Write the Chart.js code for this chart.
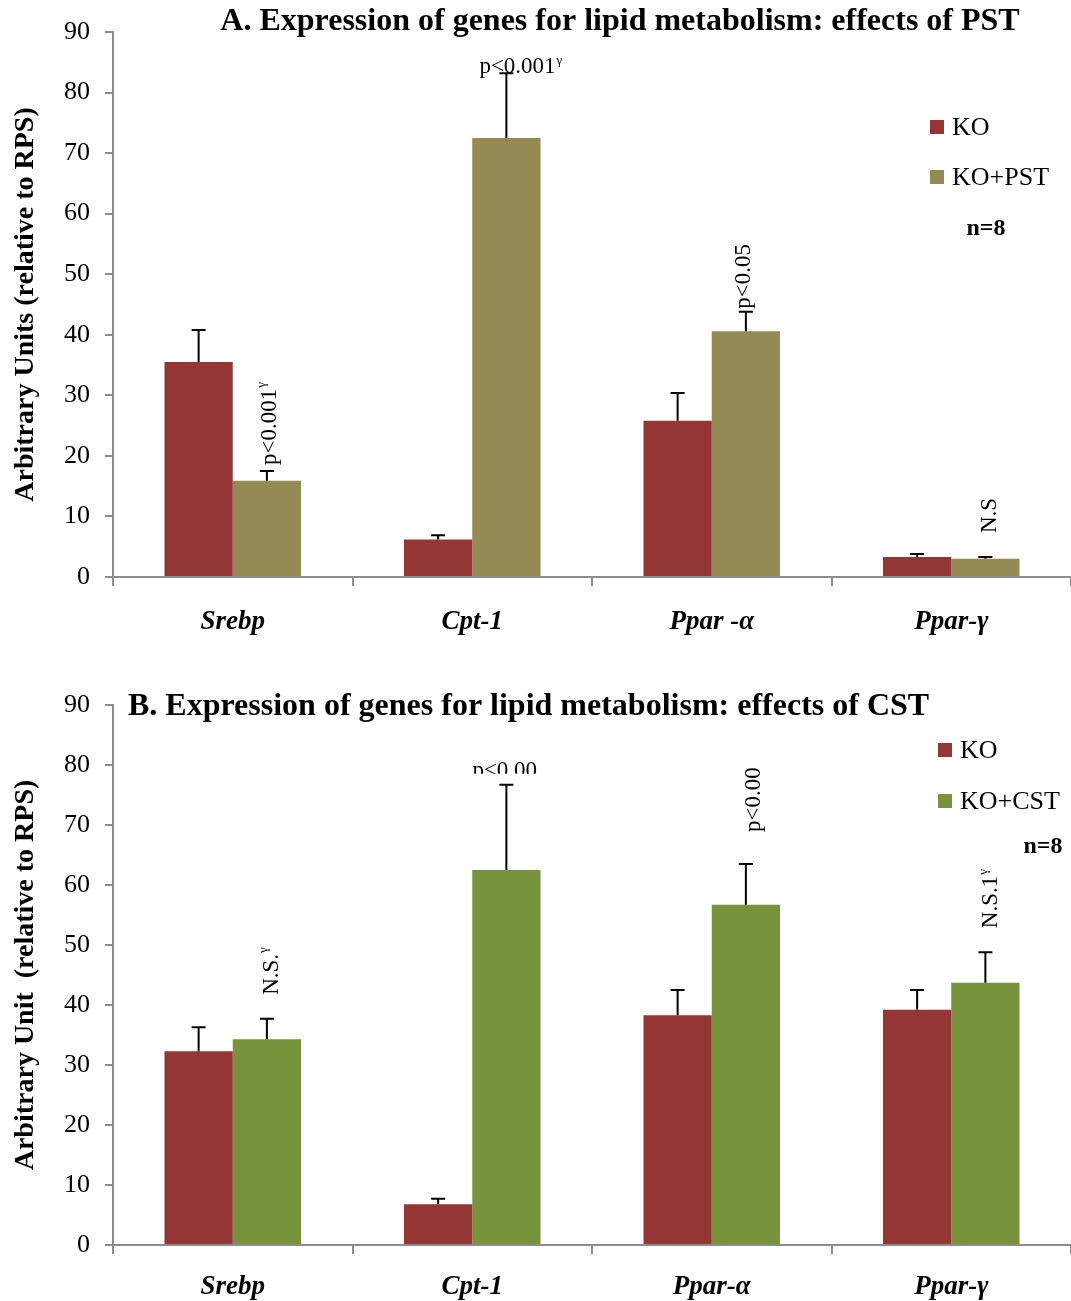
<!DOCTYPE html>
<html><head><meta charset="utf-8">
<script src="https://cdn.jsdelivr.net/npm/chart.js@4.4.1/dist/chart.umd.min.js"></script>
<style>
body{margin:0;background:#fff;width:1071px;height:1301px;overflow:hidden;position:relative}
.wrap{position:absolute;left:0;width:1071px}
canvas{display:block}
</style></head><body>
<div class="wrap" style="top:0;height:650px"><canvas id="cA" width="1071" height="650"></canvas></div>
<div class="wrap" style="top:650px;height:651px"><canvas id="cB" width="1071" height="651"></canvas></div>
<script>
// ---------- DATA ----------
const categoriesA = ['Srebp', 'Cpt-1', 'Ppar -α', 'Ppar-γ'];
const koA      = [35.5, 6.2, 25.8, 3.3];
const koErrA   = [5.3, 0.7, 4.6, 0.5];
const pstA     = [15.9, 72.5, 40.6, 3.0];
const pstErrA  = [1.6, 10.7, 3.2, 0.3];
const notesTextA = ['p<0.001', 'p<0.001', 'p<0.05', 'N.S'];
const notesSupA  = ['γ', 'γ', '', ''];

const categoriesB = ['Srebp', 'Cpt-1', 'Ppar-α', 'Ppar-γ'];
const koB      = [32.3, 6.8, 38.3, 39.2];
const koErrB   = [4.0, 0.9, 4.2, 3.3];
const cstB     = [34.3, 62.5, 56.7, 43.7];
const cstErrB  = [3.4, 14.2, 6.8, 5.1];
const notesTextB = ['N.S.', 'p<0.00', 'p<0.00', 'N.S.1'];
const notesSupB  = ['γ', '', '', 'γ'];

const yTicks = [0, 10, 20, 30, 40, 50, 60, 70, 80, 90];
const seriesLabelsA = ['KO', 'KO+PST'];
const seriesLabelsB = ['KO', 'KO+CST'];
const titleA = 'A. Expression of genes for lipid metabolism: effects of PST';
const titleB = 'B. Expression of genes for lipid metabolism: effects of CST';
const yTitleA = 'Arbitrary Units (relative to RPS)';
const yTitleB = 'Arbitrary Unit  (relative to RPS)';

// ---------- STYLE ----------
const FONT = "'Liberation Serif', 'Times New Roman', serif";
const RED = '#943634', OLIVE = '#948A54', GREEN = '#77933C', AXIS = '#8c8c8c';

const decor = {
  id: 'decor',
  afterDatasetsDraw(chart, args, o) {
    const ctx = chart.ctx, y = chart.scales.y;
    chart.data.datasets.forEach((ds, di) => {
      chart.getDatasetMeta(di).data.forEach((bar, i) => {
        const top = y.getPixelForValue(ds.data[i] + ds.errors[i]);
        ctx.save();
        ctx.strokeStyle = '#000'; ctx.lineWidth = 2;
        ctx.beginPath();
        ctx.moveTo(bar.x, bar.y); ctx.lineTo(bar.x, top);
        ctx.moveTo(bar.x - 7, top); ctx.lineTo(bar.x + 7, top);
        ctx.stroke(); ctx.restore();
      });
    });
    // annotations
    (o.notes || []).forEach(n => {
      const ds = chart.data.datasets[n.ds];
      const bar = chart.getDatasetMeta(n.ds).data[n.cat];
      const capY = y.getPixelForValue(ds.data[n.cat] + ds.errors[n.cat]);
      ctx.save();
      ctx.fillStyle = '#000';
      if (n.clip) { ctx.beginPath(); ctx.rect(0, 0, chart.width, capY + n.clip); ctx.clip(); }
      ctx.font = `23px ${FONT}`;
      if (n.rotate) {
        ctx.translate(bar.x + n.dx, capY - n.gap);
        ctx.rotate(-Math.PI / 2);
        ctx.textAlign = 'left'; ctx.textBaseline = 'middle';
        ctx.fillText(n.text, 0, 0);
        const w = ctx.measureText(n.text).width;
        if (n.sup) { ctx.font = `13px ${FONT}`; ctx.fillText(n.sup, w + 1, -8); }
      } else {
        ctx.textAlign = 'left'; ctx.textBaseline = 'alphabetic';
        const x0 = bar.x + n.dx, y0 = capY + n.dy;
        ctx.fillText(n.text, x0, y0);
        const w = ctx.measureText(n.text).width;
        if (n.sup) { ctx.font = `13px ${FONT}`; ctx.fillText(n.sup, x0 + w + 1, y0 - 9); }
      }
      ctx.restore();
    });
  },
  afterDraw(chart, args, o) {
    const ctx = chart.ctx;
    ctx.save();
    ctx.fillStyle = '#000';
    ctx.font = `bold 32px ${FONT}`;
    ctx.textBaseline = 'middle';
    ctx.textAlign = o.titleAlign;
    ctx.fillText(o.title, o.titleX, o.titleY);
    // legend
    ctx.font = `26px ${FONT}`;
    ctx.textAlign = 'left';
    chart.data.datasets.forEach((ds, i) => {
      const ly = o.legY[i];
      ctx.fillStyle = ds.backgroundColor;
      ctx.fillRect(o.legX, ly - 7, 14, 14);
      ctx.fillStyle = '#000';
      ctx.fillText(ds.label, o.legX + 22, ly + 1);
    });
    ctx.font = `bold 24px ${FONT}`;
    ctx.textAlign = 'center';
    ctx.fillText('n=8', o.nX, o.nY);
    ctx.restore();
  }
};

function buildNotes(texts, sups, styles) {
  return texts.map((t, i) => Object.assign({ text: t, sup: sups[i] }, styles[i]));
}

function makeChart(id, cats, labels, d0, e0, d1, e1, c1, yTitle, padTop, xAxisH, xPad, decorOpts) {
  return new Chart(document.getElementById(id), {
    type: 'bar',
    data: {
      labels: cats,
      datasets: [
        { label: labels[0], data: d0, errors: e0, backgroundColor: RED, borderWidth: 0 },
        { label: labels[1], data: d1, errors: e1, backgroundColor: c1, borderWidth: 0 }
      ]
    },
    options: {
      responsive: false, maintainAspectRatio: false, animation: false,
      layout: { padding: { top: padTop, right: 0, bottom: 0, left: 0 } },
      categoryPercentage: 0.57, barPercentage: 1.0,
      plugins: { legend: { display: false }, tooltip: { enabled: false }, title: { display: false }, decor: decorOpts },
      scales: {
        x: {
          afterFit(s) { s.height = xAxisH; },
          grid: { display: true, drawOnChartArea: false, drawTicks: true, tickLength: 9, color: AXIS, lineWidth: 2, offset: true },
          border: { display: true, color: AXIS, width: 2 },
          ticks: { color: '#000', font: { family: FONT, size: 27, style: 'italic', weight: 'bold' }, padding: xPad, maxRotation: 0 }
        },
        y: {
          min: 0, max: 90,
          afterFit(s) { s.width = 113; },
          afterBuildTicks(s) { s.ticks = yTicks.map(v => ({ value: v })); },
          grid: { display: true, drawOnChartArea: false, drawTicks: true, tickLength: 8, color: AXIS, lineWidth: 2 },
          border: { display: true, color: AXIS, width: 2 },
          ticks: { color: '#000', font: { family: FONT, size: 26 }, padding: 15 },
          title: { display: true, text: yTitle, color: '#000', font: { family: FONT, size: 28, weight: 'bold' }, padding: { top: 9, bottom: 0 } }
        }
      }
    },
    plugins: [decor]
  });
}

makeChart('cA', categoriesA, seriesLabelsA, koA, koErrA, pstA, pstErrA, OLIVE, yTitleA, 32, 73, 20, {
  title: titleA, titleAlign: 'center', titleX: 620, titleY: 22,
  legX: 930, legY: [127, 177], nX: 986, nY: 229,
  notes: buildNotes(notesTextA, notesSupA, [
    { cat: 0, ds: 1, rotate: true, dx: 3, gap: 6 },
    { cat: 1, ds: 1, rotate: false, dx: -27, dy: 0 },
    { cat: 2, ds: 1, rotate: true, dx: -2, gap: 3 },
    { cat: 3, ds: 1, rotate: true, dx: 5, gap: 24 }
  ])
});

makeChart('cB', categoriesB, seriesLabelsB, koB, koErrB, cstB, cstErrB, GREEN, yTitleB, 55, 56, 17, {
  title: titleB, titleAlign: 'left', titleX: 128, titleY: 57,
  legX: 938, legY: [100, 151], nX: 1043, nY: 197,
  notes: buildNotes(notesTextB, notesSupB, [
    { cat: 0, ds: 1, rotate: true, dx: 5, gap: 24 },
    { cat: 1, ds: 1, rotate: false, dx: -34, dy: -8, clip: -11 },
    { cat: 2, ds: 1, rotate: true, dx: 8, gap: 32 },
    { cat: 3, ds: 1, rotate: true, dx: 6, gap: 24 }
  ])
});
</script>
</body></html>
